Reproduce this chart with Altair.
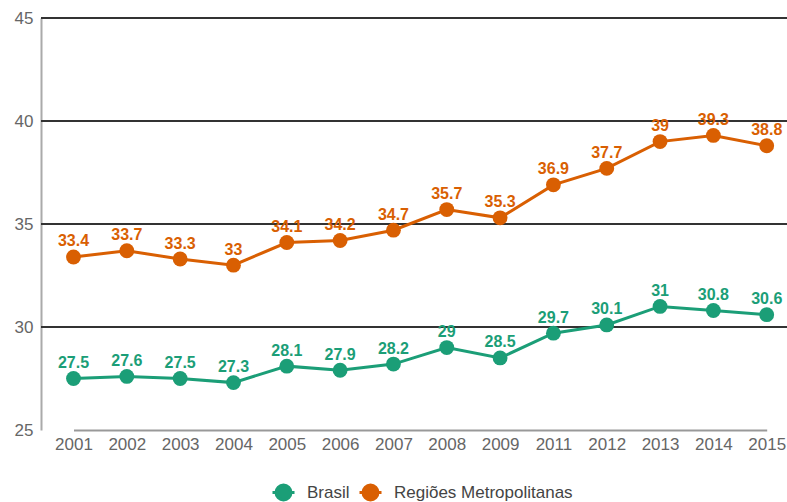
import altair as alt
import pandas as pd

years = ["2001", "2002", "2003", "2004", "2005", "2006", "2007", "2008", "2009",
         "2011", "2012", "2013", "2014", "2015"]
brasil = [27.5, 27.6, 27.5, 27.3, 28.1, 27.9, 28.2, 29, 28.5, 29.7, 30.1, 31, 30.8, 30.6]
metro = [33.4, 33.7, 33.3, 33, 34.1, 34.2, 34.7, 35.7, 35.3, 36.9, 37.7, 39, 39.3, 38.8]
series = ["Brasil", "Regiões Metropolitanas"]
colors = ["#1b9e77", "#d95f02"]
y_ticks = [25, 30, 35, 40, 45]
grid_values = [30, 35, 40, 45]

rows = []
for name, vals in zip(series, [brasil, metro]):
    for yr, v in zip(years, vals):
        rows.append({"ano": yr, "valor": v, "serie": name, "rotulo": f"{v:g}"})
df = pd.DataFrame(rows)
grid_df = pd.DataFrame({"valor": grid_values})

FONT = "Liberation Sans"
sym = "M-1,0L1,0M-0.68,0A0.68,0.68,0,1,1,0.68,0A0.68,0.68,0,1,1,-0.68,0Z"

yscale = alt.Scale(domain=[25, 45], nice=False, zero=False)

x = alt.X("ano:O", sort=years, title=None,
          scale=alt.Scale(type="point", range=[32.5, {"expr": "width - 20.3"}], padding=0),
          axis=alt.Axis(labelAngle=0, ticks=False, labelPadding=6, labelFontSize=17,
                        labelColor="#666", labelFont=FONT, domainColor="#999",
                        domainWidth=2, grid=False))
y = alt.Y("valor:Q", title=None, scale=yscale,
          axis=alt.Axis(values=y_ticks, ticks=False, labelPadding=8, labelFontSize=17,
                        labelColor="#666", labelFont=FONT, domainColor="#aaa",
                        domainWidth=2, grid=False))
color = alt.Color("serie:N", title=None,
                  scale=alt.Scale(domain=series, range=colors),
                  legend=alt.Legend(orient="none", legendX=230, legendY=462, direction="horizontal",
                                    symbolType=sym, symbolSize=484, symbolStrokeWidth=3,
                                    labelFontSize=17, labelColor="#444", labelFont=FONT,
                                    labelLimit=400, labelOffset=11, columnPadding=3))

grid = alt.Chart(grid_df).mark_rule(color="#333", strokeWidth=1.8).encode(
    y=alt.Y("valor:Q", scale=yscale), x=alt.value(0), x2=alt.value("width"))

base = alt.Chart(df)
lines = base.mark_line(strokeWidth=3).encode(x=x, y=y, color=color)
points = base.mark_circle(size=220, opacity=1).encode(x=x, y=y, color=color)
labels = base.mark_text(fontSize=16, fontWeight="bold", baseline="alphabetic", dy=-10.5, font=FONT).encode(
    x=x, y=y, text="rotulo:N",
    color=alt.Color("serie:N", scale=alt.Scale(domain=series, range=colors), legend=None))

chart = alt.layer(grid, lines, points, labels).properties(
    width=746, height=412,
    autosize=alt.AutoSizeParams(type="none"),
    padding={"left": 41, "top": 18, "right": 0, "bottom": 72},
).configure_view(stroke=None)

chart.save("out.html", embed_options={"renderer": "svg", "actions": False})
